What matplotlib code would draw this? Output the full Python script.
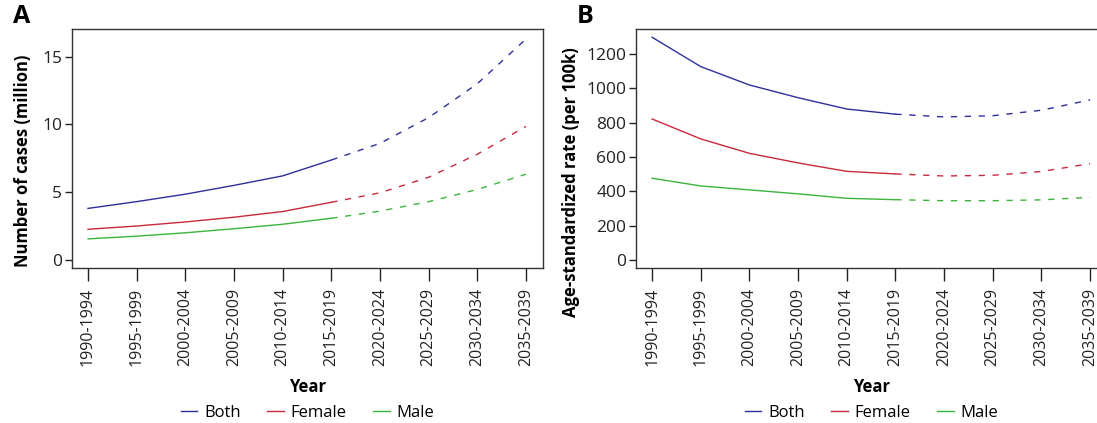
import matplotlib
matplotlib.use("Agg")
import matplotlib.pyplot as plt
from matplotlib.lines import Line2D

plt.rcParams['font.family'] = ['Open Sans', 'DejaVu Sans']

# Periods on the x axis
periods = ['1990-1994', '1995-1999', '2000-2004', '2005-2009', '2010-2014',
           '2015-2019', '2020-2024', '2025-2029', '2030-2034', '2035-2039']
n_obs = 6  # first 6 periods are observed, the rest projected

# Panel A: number of cases (million)
cases_both = [3.8, 4.3, 4.85, 5.5, 6.2, 7.37, 8.6, 10.5, 13.0, 16.3]
cases_female = [2.26, 2.5, 2.8, 3.15, 3.57, 4.25, 4.95, 6.1, 7.8, 9.85]
cases_male = [1.55, 1.75, 2.0, 2.3, 2.63, 3.07, 3.6, 4.3, 5.2, 6.32]

# Panel B: age-standardized rate (per 100k)
rate_both = [1297, 1126, 1019, 945, 879, 849, 833, 840, 872, 932]
rate_female = [821, 705, 621, 565, 516, 501, 489, 493, 515, 561]
rate_male = [476, 431, 408, 385, 359, 351, 345, 345, 350, 365]

colors = {'Both': '#2e2e9e', 'Female': '#c8283c', 'Male': '#3cb43c'}

fig = plt.figure(figsize=(10.97, 4.23), dpi=100)
axA = fig.add_axes([0.0656, 0.3664, 0.4294, 0.565])
axB = fig.add_axes([0.5798, 0.3664, 0.4294, 0.565])

x = list(range(len(periods)))


def draw(ax, series, ylim, yticks, ylabel, letter):
    for name, vals in series:
        c = colors[name]
        ax.plot(x[:n_obs], vals[:n_obs], color=c, lw=1.0)
        ax.plot(x[n_obs - 1:], vals[n_obs - 1:], color=c, lw=1.0,
                dashes=(4.5, 5.5))
    ax.set_xlim(-0.33, 9.35)
    ax.set_ylim(*ylim)
    ax.set_xticks(x)
    ax.set_xticklabels(periods, rotation=90, fontsize=11.5)
    ax.set_yticks(yticks)
    ax.tick_params(axis='x', length=9, width=1, pad=5, colors='#222222')
    ax.tick_params(axis='y', length=5, width=1, pad=2, colors='#222222',
                   labelsize=12.5)
    for sp in ax.spines.values():
        sp.set_color('#333333')
        sp.set_linewidth(1.0)
    ax.set_ylabel(ylabel, fontsize=12, fontweight='bold')
    ax.set_xlabel('Year', fontsize=12, fontweight='bold', labelpad=9)
    ax.text(-0.125, 1.0, letter, transform=ax.transAxes, fontsize=18,
            fontweight='bold', va='bottom', ha='left')
    handles = [Line2D([0], [0], color=colors[n], lw=1.0) for n, _ in series]
    ax.legend(handles, [n for n, _ in series], loc='center',
              bbox_to_anchor=(0.5, -0.607), ncol=3, frameon=False,
              fontsize=12, handlelength=1.0, handletextpad=0.4,
              columnspacing=1.6)


draw(axA, [('Both', cases_both), ('Female', cases_female), ('Male', cases_male)],
     (-0.6, 17.04), [0, 5, 10, 15], 'Number of cases (million)', 'A')
draw(axB, [('Both', rate_both), ('Female', rate_female), ('Male', rate_male)],
     (-47, 1345), [0, 200, 400, 600, 800, 1000, 1200],
     'Age-standardized rate (per 100k)', 'B')
axA.yaxis.set_label_coords(-0.085, 0.45)
axB.yaxis.set_label_coords(-0.12, 0.36)

fig.savefig('out.png', dpi=100)
